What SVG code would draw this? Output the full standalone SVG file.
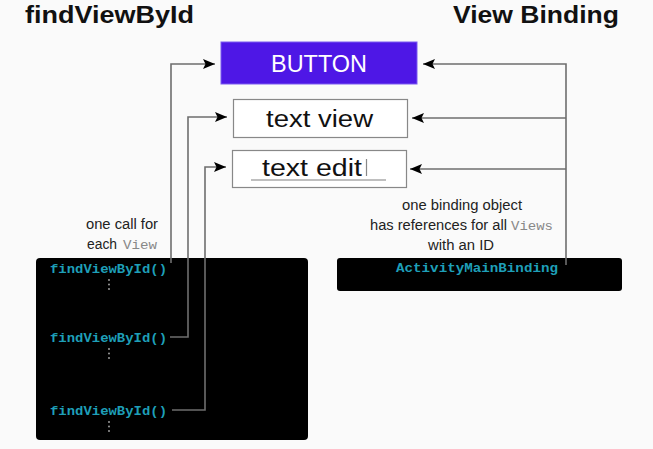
<svg xmlns="http://www.w3.org/2000/svg" width="653" height="449" viewBox="0 0 653 449">
<defs>
<style>
.title{font-family:"Liberation Sans",Arial,sans-serif;font-weight:bold;font-size:24px;fill:#111}
.box{font-family:"Liberation Sans",Arial,sans-serif;font-size:23px;fill:#111}
.note{font-family:"Liberation Sans",Arial,sans-serif;font-size:14px;fill:#222}
.mono{font-family:"Liberation Mono","Courier New",monospace;font-size:13.5px;fill:#888}
.code{font-family:"Liberation Mono","Courier New",monospace;font-weight:bold;font-size:13.5px;fill:#1e9fb8}
.conn{fill:none;stroke:#6e6e6e;stroke-width:1.6}
.dot{fill:#aaa}
</style>
<marker id="arr" viewBox="0 0 12 10" refX="12" refY="5" markerWidth="12" markerHeight="10" markerUnits="userSpaceOnUse" orient="auto">
<path d="M0,0 L12,5 L0,10 L2.5,5 Z" fill="#000"/>
</marker>
</defs>
<rect width="653" height="449" fill="#fafafa"/>
<g id="titles">
<text class="title" x="25" y="23" textLength="169" lengthAdjust="spacingAndGlyphs">findViewById</text>
<text class="title" x="453" y="23" textLength="166" lengthAdjust="spacingAndGlyphs">View Binding</text>
</g>
<g id="button">
<rect x="221" y="42" width="196" height="42" fill="#4e17e6" stroke="#7a5af0" stroke-width="1"/>
<text class="box" x="271" y="72" textLength="96" lengthAdjust="spacingAndGlyphs" style="fill:#fff">BUTTON</text>
</g>
<g id="textview">
<rect x="233.5" y="99.5" width="174" height="38" fill="#fff" stroke="#888" stroke-width="1.2"/>
<text class="box" x="266" y="127" textLength="107" lengthAdjust="spacingAndGlyphs">text view</text>
</g>
<g id="textedit">
<rect x="232.5" y="150.5" width="174" height="37" fill="#fff" stroke="#888" stroke-width="1.2"/>
<text class="box" x="262" y="176" textLength="100" lengthAdjust="spacingAndGlyphs">text edit</text>
<line x1="366.5" y1="159" x2="366.5" y2="176" stroke="#888" stroke-width="1.2"/>
<line x1="251" y1="180" x2="386" y2="180" stroke="#aaa" stroke-width="1.5"/>
</g>
<g id="findviewbyid-block">
<rect x="36" y="258" width="272" height="182" rx="4" fill="#000"/>
<text class="code" x="50" y="273" textLength="117" lengthAdjust="spacingAndGlyphs">findViewById()</text>
<circle class="dot" cx="109" cy="280" r="0.9"/><circle class="dot" cx="109" cy="284.5" r="0.9"/><circle class="dot" cx="109" cy="289" r="0.9"/>
<text class="code" x="50" y="342" textLength="117" lengthAdjust="spacingAndGlyphs">findViewById()</text>
<circle class="dot" cx="109" cy="349" r="0.9"/><circle class="dot" cx="109" cy="353.5" r="0.9"/><circle class="dot" cx="109" cy="358" r="0.9"/>
<text class="code" x="50" y="415" textLength="117" lengthAdjust="spacingAndGlyphs">findViewById()</text>
<circle class="dot" cx="109" cy="422" r="0.9"/><circle class="dot" cx="109" cy="426.5" r="0.9"/><circle class="dot" cx="109" cy="431" r="0.9"/>
</g>
<g id="note-left">
<text class="note" x="86" y="229" textLength="72" lengthAdjust="spacingAndGlyphs">one call for</text>
<text class="note" x="87" y="249" textLength="30" lengthAdjust="spacingAndGlyphs">each</text>
<text class="mono" x="123" y="249" textLength="34" lengthAdjust="spacingAndGlyphs">View</text>
</g>
<g id="binding-block">
<rect x="337" y="258" width="285" height="33" rx="3" fill="#000"/>
<text class="code" x="396" y="272" textLength="162" lengthAdjust="spacingAndGlyphs">ActivityMainBinding</text>
</g>
<g id="note-right">
<text class="note" x="402" y="210" textLength="120" lengthAdjust="spacingAndGlyphs">one binding object</text>
<text class="note" x="370" y="230" textLength="137" lengthAdjust="spacingAndGlyphs">has references for all</text>
<text class="mono" x="511" y="230" textLength="42" lengthAdjust="spacingAndGlyphs">Views</text>
<text class="note" x="428" y="250" textLength="66" lengthAdjust="spacingAndGlyphs">with an ID</text>
</g>
<g id="connectors">
<path class="conn" d="M171,263 V64 H215" marker-end="url(#arr)"/>
<path class="conn" d="M170,337 H188 V117 H227" marker-end="url(#arr)"/>
<path class="conn" d="M172,410 H205 V167 H226" marker-end="url(#arr)"/>
<path class="conn" d="M566,265 V64 H423" marker-end="url(#arr)"/>
<path class="conn" d="M566,118 H412" marker-end="url(#arr)"/>
<path class="conn" d="M566,169 H410" marker-end="url(#arr)"/>
</g>
</svg>
